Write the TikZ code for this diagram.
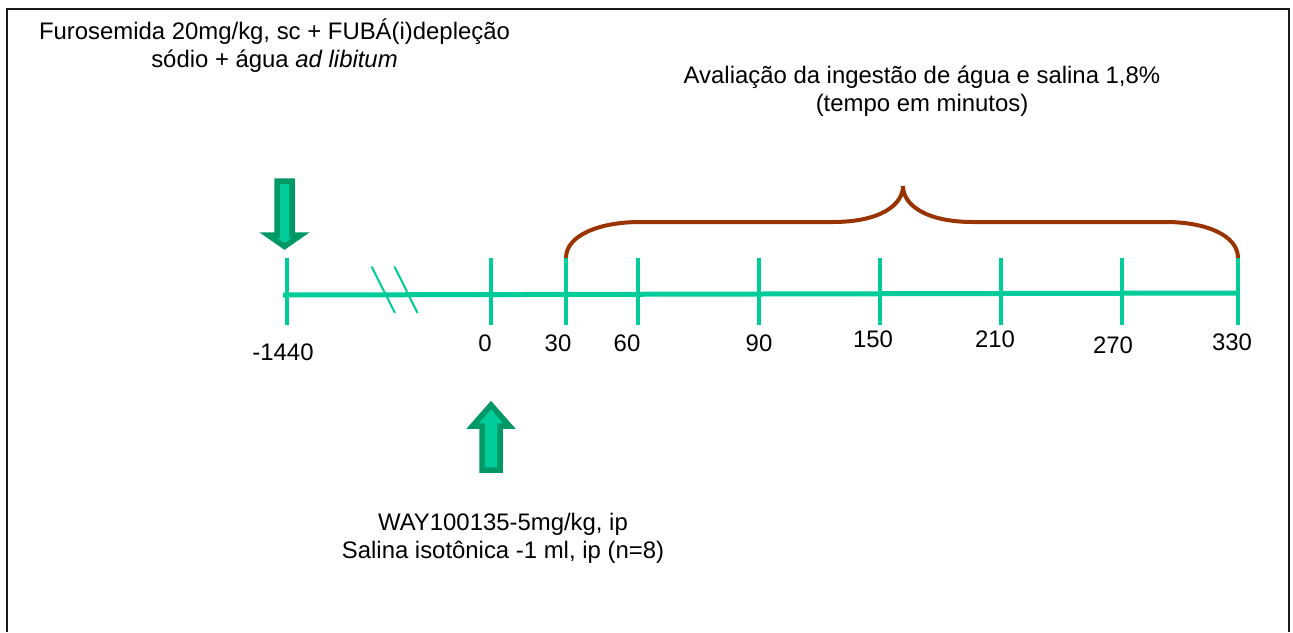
\documentclass[tikz,border=0pt]{standalone}
\usepackage{fontspec}
\setmainfont{Liberation Sans}
\usepackage{tikz}
\usetikzlibrary{positioning, calc}
\usepackage{xcolor}
\definecolor{linegreen}{HTML}{00CC99}
\definecolor{edgegreen}{HTML}{009966}
\definecolor{bracebrown}{HTML}{993300}
\definecolor{framecol}{HTML}{1A1A1A}
\tikzset{
  % plain text, Arial-like
  txt/.style={font=\fontsize{13.6}{15.9}\selectfont, inner sep=0pt,
              align=center, text=black},
  % timeline and its ticks
  axisline/.style={draw=linegreen, line width=0.1cm},
  tickline/.style={draw=linegreen, line width=0.085cm},
  breakline/.style={draw=linegreen, line width=0.04cm},
  % block arrow = treatment
  blockarrow/.style={fill=linegreen, draw=edgegreen, line width=0.11cm,
                     line join=miter},
  % curly brace over the test period
  bracket/.style={draw=bracebrown, line width=0.08cm},
}
\newcommand{\downarrowshape}[1]{%
  \draw[blockarrow] (#1-0.15,-3.62) -- (#1+0.15,-3.62) -- (#1+0.15,-4.70)
    -- (#1+0.33,-4.70) -- (#1,-4.93) -- (#1-0.33,-4.70)
    -- (#1-0.15,-4.70) -- cycle;%
}
\newcommand{\uparrowshape}[1]{%
  \draw[blockarrow] (#1-0.18,-9.40) -- (#1+0.18,-9.40) -- (#1+0.18,-8.52)
    -- (#1+0.37,-8.52) -- (#1,-8.10) -- (#1-0.37,-8.52)
    -- (#1-0.18,-8.52) -- cycle;%
}

\begin{document}
\begin{tikzpicture}
  \useasboundingbox (0,0) rectangle (25.86,-12.64);
  % frame (open at the bottom)
  \draw[framecol, line width=1.2pt]
    (0.14,-12.64) -- (0.14,-0.18) -- (25.78,-0.18) -- (25.78,-12.64);

  % timeline
  \coordinate (axL) at (5.66,-5.90);
  \coordinate (axR) at (24.76,-5.86);
  \draw[axisline] (axL) -- (axR);
  \foreach \tx/\lab/\lx/\ly [count=\i] in
      {5.74/-1440/5.66/-7.04, 9.82/0/9.70/-6.86, 11.32/30/11.16/-6.86,
       12.76/60/12.54/-6.86, 15.18/90/15.18/-6.86, 17.60/150/17.46/-6.78,
       20.02/210/19.90/-6.78, 22.44/270/22.26/-6.90, 24.76/330/24.64/-6.84}
  {
    \coordinate (t\i) at (\tx,-5.16);
    \coordinate (b\i) at (\tx,-6.50);
    \draw[tickline] (t\i) -- (b\i);
    \node[txt] (lab\i) at (\lx,\ly) {\lab};
  }

  % axis break
  \coordinate (brA1) at (7.43,-5.33);
  \coordinate (brA2) at (7.90,-6.26);
  \coordinate (brB1) at (7.89,-5.33);
  \coordinate (brB2) at (8.35,-6.26);
  \draw[breakline] (brA1) -- (brA2);
  \draw[breakline] (brB1) -- (brB2);

  % treatment arrows
  \downarrowshape{5.69}
  \uparrowshape{9.82}

  % brace over 30--330
  \draw[bracket] (t3) .. controls (11.32,-4.70) and (12.0,-4.44) .. (12.8,-4.44)
    -- (16.66,-4.44) .. controls (17.6,-4.44) and (18.06,-4.10) .. (18.06,-3.72)
    .. controls (18.06,-4.10) and (18.52,-4.44) .. (19.46,-4.44)
    -- (23.32,-4.44) .. controls (24.1,-4.44) and (24.76,-4.70) .. (t9);

  % labels
  \node[txt] (furo) at (5.49,-0.92)
    {Furosemida 20mg/kg, sc + FUBÁ(i)depleção\\sódio + água \textit{ad libitum}};
  \node[txt] (aval) at (18.44,-1.82)
    {Avaliação da ingestão de água e salina 1,8\%\\(tempo em minutos)};
  \node[txt] (way) at (10.06,-10.76)
    {WAY100135-5mg/kg, ip\\Salina isotônica -1 ml, ip (n=8)};
\end{tikzpicture}
\end{document}
